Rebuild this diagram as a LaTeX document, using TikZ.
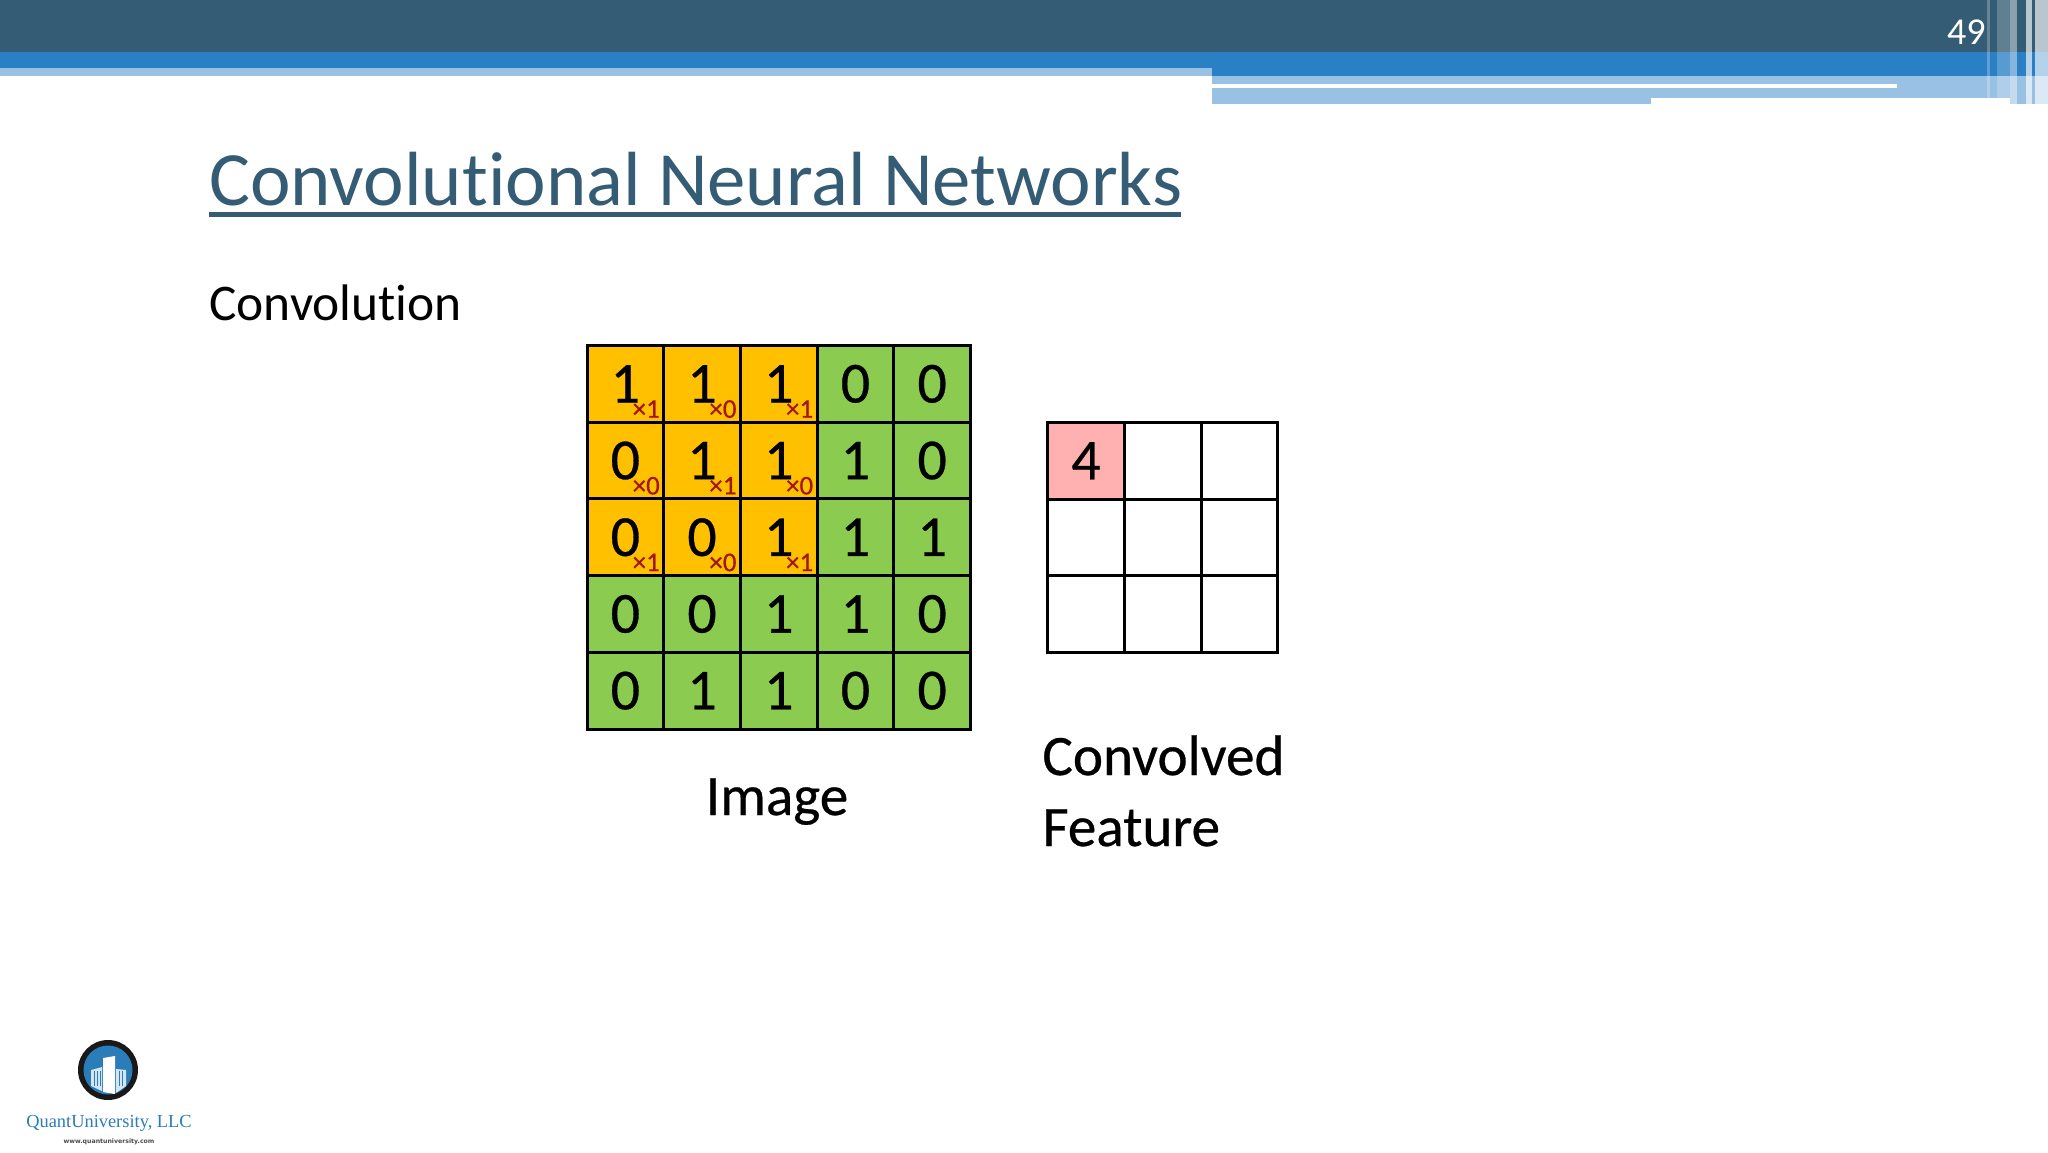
\documentclass[tikz,border=0pt]{standalone}
\usepackage{fontspec}
\setmainfont{Carlito}[Ligatures=NoCommon]
\newfontfamily\gridfont{Carlito}[FakeBold=0.5,Ligatures=NoCommon]
\newfontfamily\logofont{Liberation Serif}
\newfontfamily\urlfont{DejaVu Sans}
\definecolor{bandDark}{HTML}{345C74}
\definecolor{bandBlue}{HTML}{2A80C5}
\definecolor{bandLight}{HTML}{98C1E4}
\definecolor{cellOrange}{HTML}{FFC000}
\definecolor{cellGreen}{HTML}{8BCB50}
\definecolor{cellPink}{HTML}{FFB0B0}
\definecolor{weightRed}{HTML}{A5150F}
\definecolor{logoBlue}{HTML}{2A7DB8}
\tikzset{
  x=0.5pt,y=-0.5pt,
  gridcell/.style={draw=black,line width=1.5pt,minimum size=38.35pt,inner sep=0pt,outer sep=0pt,anchor=center,font=\gridfont\fontsize{29}{29}\selectfont,text=black},
  weight/.style={anchor=base east,inner sep=0pt,font=\gridfont\fontsize{13.5}{13.5}\selectfont,text=weightRed},
  caption/.style={anchor=base west,inner sep=0pt,font=\gridfont\fontsize{28.6}{28.6}\selectfont,text=black},
  stripe/.style={fill=white,draw=none},
}
\begin{document}
\begin{tikzpicture}
\useasboundingbox (0,0) rectangle (2048,1152);
\fill[white] (0,0) rectangle (2048,1152);
% top bands
\fill[bandLight] (1212,76) rectangle (2048,104);
\fill[white] (1212,84) rectangle (1897,88);
\fill[white] (1651,98) rectangle (2010,104);
\fill[bandLight] (0,68) rectangle (1212,76);
\fill[bandBlue] (0,52) rectangle (2048,68);
\fill[bandBlue] (1212,68) rectangle (2048,76);
\fill[bandDark] (0,0) rectangle (2048,52);
% vertical stripes
\fill[stripe,opacity=.25] (1987,0) rectangle (1990,98);
\fill[stripe,opacity=.22] (1997,0) rectangle (2010,98);
\fill[stripe,opacity=.42] (2010,0) rectangle (2017,104);
\fill[stripe,opacity=.65] (2026,0) rectangle (2032,104);
\fill[stripe,opacity=.65] (2035,0) rectangle (2048,104);
\node[anchor=base east,inner sep=0pt,text=white,font=\fontsize{19}{19}\selectfont] (pagenum) at (1986,44) {49};
% title
\node[anchor=base west,inner sep=0pt,text=bandDark,font=\fontsize{38.4}{38.4}\selectfont] (title) at (209,205) {Convolutional Neural Networks};
\fill[bandDark] (209,212) rectangle (1181,217);
\node[anchor=base west,inner sep=0pt,text=black,font=\fontsize{25.7}{25.7}\selectfont] (sub) at (209,320) {Convolution};
% image grid
\def\cellstep{76.7}
\foreach \r/\row in {0/{1,1,1,0,0},1/{0,1,1,1,0},2/{0,0,1,1,1},3/{0,0,1,1,0},4/{0,1,1,0,0}}{
  \foreach \v [count=\c from 0] in \row {
    \pgfmathsetmacro{\cx}{587+\c*\cellstep+\cellstep/2}
    \pgfmathsetmacro{\cy}{345.5+\r*\cellstep+\cellstep/2}
    \pgfmathtruncatemacro{\isw}{(\c<3)&&(\r<3)}
    \ifnum\isw=1 \def\cfill{cellOrange}\else\def\cfill{cellGreen}\fi
    \node[gridcell,fill=\cfill] (im\r\c) at (\cx,\cy) {\v};
  }
}
\foreach \r/\c/\w in {0/0/1,0/1/0,0/2/1,1/0/0,1/1/1,1/2/0,2/0/1,2/1/0,2/2/1}{
  \pgfmathsetmacro{\wx}{587+\c*\cellstep+\cellstep-3.5}
  \pgfmathsetmacro{\wy}{345.5+\r*\cellstep+\cellstep-4.5}
  \node[weight] (wt\r\c) at (\wx,\wy) {×\w};
}
% feature grid
\foreach \r in {0,1,2}{
  \foreach \c in {0,1,2}{
    \pgfmathsetmacro{\cx}{1047.6+\c*\cellstep+\cellstep/2}
    \pgfmathsetmacro{\cy}{422.5+\r*\cellstep+\cellstep/2}
    \node[gridcell,fill=white] (fe\r\c) at (\cx,\cy) {};
  }
}
\node[gridcell,fill=cellPink] (fe00) at (fe00.center) {4};
% captions
\node[caption,anchor=base] (imcap) at (777,815) {Image};
\node[caption] (convcap) at (1042,775) {Convolved};
\node[caption] (featcap) at (1042,846) {Feature};
% logo
\fill[black!90] (108,1070) circle (30);
\fill[logoBlue] (108,1070) circle (24.5);
\fill[white] (103,1058) -- (115,1056) -- (115,1094) -- (103,1092) -- cycle;
\fill[white!80!logoBlue] (91,1070) -- (102,1067) -- (102,1091) -- (91,1086) -- cycle;
\fill[white!80!logoBlue] (116,1069) -- (126,1070) -- (126,1086) -- (116,1093) -- cycle;
\foreach \sx in {94,97,100,119,122}{\draw[logoBlue,line width=0.3pt] (\sx,1071) -- (\sx,1086);}
\node[inner sep=0pt,text=logoBlue,font=\logofont\fontsize{9.2}{9.2}\selectfont,anchor=base] (logotext) at (109,1127) {QuantUniversity, LLC};
\node[inner sep=0pt,text=black!70,font=\urlfont\bfseries\fontsize{3.1}{3.1}\selectfont,anchor=base] (logourl) at (109,1143) {www.quantuniversity.com};
\end{tikzpicture}
\end{document}
